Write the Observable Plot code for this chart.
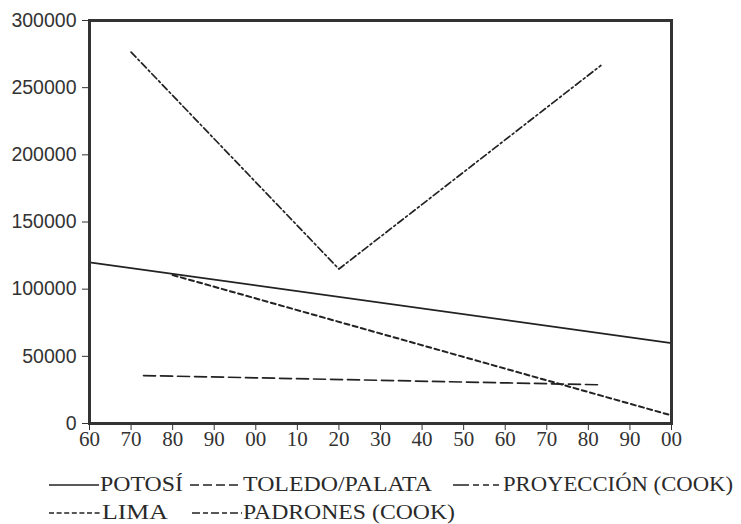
<!DOCTYPE html>
<html><head><meta charset="utf-8">
<script src="https://cdn.jsdelivr.net/npm/d3@7"></script>
<script src="https://cdn.jsdelivr.net/npm/@observablehq/plot@0.6"></script>
<style>
body{margin:0;background:#fff;}
#wrap{position:relative;width:741px;height:524px;overflow:hidden;background:#fff;}
#legend{position:absolute;left:0;top:0;}
</style></head><body><div id="wrap"></div>
<script>
// ---- data ----
const potosiYears = [1560, 1700];
const potosiValues = [120000, 59800];
const proyeccionYears = [1570, 1620, 1683];
const proyeccionValues = [276500, 115000, 266500];
const limaYears = [1580, 1700];
const limaValues = [110500, 6000];
const padronesYears = [1573, 1683];
const padronesValues = [35700, 28800];
const xTickYears = [1560,1570,1580,1590,1600,1610,1620,1630,1640,1650,1660,1670,1680,1690,1700];
const xTickLabels = ["60","70","80","90","00","10","20","30","40","50","60","70","80","90","00"];
const yTickValues = [0, 50000, 100000, 150000, 200000, 250000, 300000];
const yTickLabels = ["0","50000","100000","150000","200000","250000","300000"];
const seriesNames = ["POTOSÍ","TOLEDO/PALATA","PROYECCIÓN (COOK)","LIMA","PADRONES (COOK)"];

const zip = (xs, ys) => xs.map((x, i) => ({year: x, value: ys[i]}));
const potosi = zip(potosiYears, potosiValues);
const proyeccion = zip(proyeccionYears, proyeccionValues);
const lima = zip(limaYears, limaValues);
const padrones = zip(padronesYears, padronesValues);

const serif = "Liberation Serif";
const sans = "Liberation Sans";
const ink = "#222";
const chart = Plot.plot({
  width: 741, height: 460,
  marginLeft: 89, marginRight: 70, marginTop: 20, marginBottom: 37,
  style: {background: "transparent"},
  x: {domain: [1560, 1700]},
  y: {domain: [0, 300000]},
  marks: [
    Plot.axisY({ticks: yTickValues, tickSize: 7, tickPadding: 6, color: "#333",
      tickFormat: d => yTickLabels[yTickValues.indexOf(d)], label: null,
      fontSize: 19.5, fontFamily: sans}),
    Plot.axisX({ticks: xTickYears, tickSize: 7, color: "#333",
      tickFormat: () => "", label: null}),
    Plot.text(xTickYears, {x: d => d, text: (d, i) => xTickLabels[i],
      frameAnchor: "bottom", dy: 22, fontSize: 21, fontFamily: serif, fill: "#333"}),
    Plot.line(potosi, {x: "year", y: "value", stroke: ink, strokeWidth: 1.7}),
    Plot.line(proyeccion, {x: "year", y: "value", stroke: ink, strokeWidth: 1.7, strokeDasharray: "7,3,2,3"}),
    Plot.line(lima, {x: "year", y: "value", stroke: ink, strokeWidth: 2, strokeDasharray: "5,3.5"}),
    Plot.line(padrones, {x: "year", y: "value", stroke: ink, strokeWidth: 1.7, strokeDasharray: "12,5"}),
    Plot.frame({stroke: "#333", strokeWidth: 3})
  ]
});
const wrap = document.getElementById("wrap");
wrap.appendChild(chart);

// ---- legend (typed-dash style, below the chart) ----
const svg = d3.select(wrap).append("svg").attr("id", "legend")
  .attr("width", 741).attr("height", 524);
const legendItems = [
  {name: seriesNames[0], x0: 49, x1: 100, w: 83, row: 0, dash: null},
  {name: seriesNames[1], x0: 190, x1: 243, w: 189, row: 0, dash: "9,4"},
  {name: seriesNames[2], x0: 453, x1: 503, w: 230, row: 0, dash: "16,4,6,4,6,4,6"},
  {name: seriesNames[3], x0: 49, x1: 102, w: 66, row: 1, dash: "5,2.6"},
  {name: seriesNames[4], x0: 192, x1: 243, w: 212, row: 1, dash: "8,3,5,3"}
];
const baselines = [491, 519];
for (const it of legendItems) {
  const by = baselines[it.row];
  svg.append("line").attr("x1", it.x0).attr("x2", it.x1 - 1)
    .attr("y1", by - 6).attr("y2", by - 6)
    .attr("stroke", ink).attr("stroke-width", 1.4)
    .attr("stroke-dasharray", it.dash);
  svg.append("text").attr("x", it.x1).attr("y", by)
    .style("font-family", serif).style("font-size", "21px")
    .attr("textLength", it.w).attr("lengthAdjust", "spacingAndGlyphs")
    .attr("fill", "#2a2a2a").text(it.name);
}
</script></body></html>
